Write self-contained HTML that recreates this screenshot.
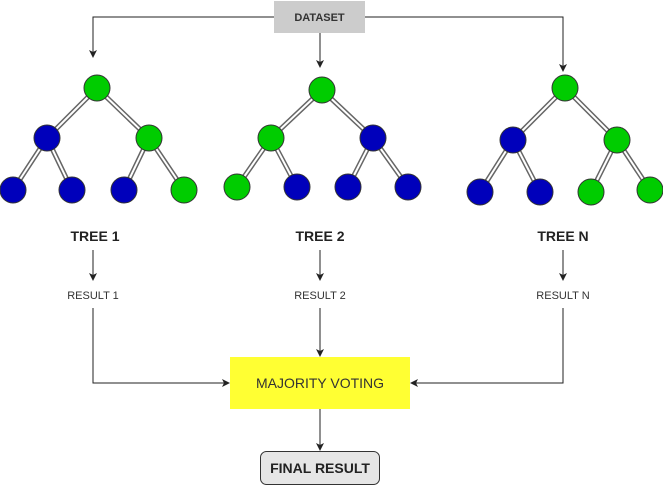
<!DOCTYPE html><html><head><style>body{margin:0;background:#fff}svg{display:block}text{font-family:"Liberation Sans",sans-serif}</style></head><body>
<svg width="663" height="486" viewBox="0 0 663 486">
<defs><marker id="a" markerWidth="8" markerHeight="8" refX="7" refY="4" orient="auto" markerUnits="userSpaceOnUse"><path d="M0,0 L8,4 L0,8 L2,4z" fill="#222"/></marker></defs>
<g stroke="#222" stroke-width="1" fill="none">
<path d="M274,17 H93 V57" marker-end="url(#a)"/>
<path d="M320,33 V67" marker-end="url(#a)"/>
<path d="M365,17 H563 V71" marker-end="url(#a)"/>
<path d="M93,250 V280" marker-end="url(#a)"/>
<path d="M320,250 V280" marker-end="url(#a)"/>
<path d="M563,250 V280" marker-end="url(#a)"/>
<path d="M93,308 V383 H229" marker-end="url(#a)"/>
<path d="M320,308 V356" marker-end="url(#a)"/>
<path d="M563,308 V383 H411" marker-end="url(#a)"/>
<path d="M320,409 V450" marker-end="url(#a)"/>
</g>
<rect x="274" y="1" width="91" height="32" fill="#cccccc"/>
<text x="319.5" y="21" font-size="11" font-weight="bold" text-anchor="middle" fill="#333">DATASET</text>
<g id="edges" fill="none">
<g stroke="#666" stroke-width="5">
<path d="M97,88 L47,138 M97,88 L149,138 M47,138 L13,190 M47,138 L72,190 M149,138 L124,190 M149,138 L184,190"/>
<path d="M322,90 L271,138 M322,90 L373,138 M271,138 L237,187 M271,138 L297,187 M373,138 L348,187 M373,138 L408,187"/>
<path d="M565,88 L513,140 M565,88 L617,140 M513,140 L480,192 M513,140 L540,192 M617,140 L591,192 M617,140 L650,190"/>
</g>
<g stroke="#fff" stroke-width="2">
<path d="M97,88 L47,138 M97,88 L149,138 M47,138 L13,190 M47,138 L72,190 M149,138 L124,190 M149,138 L184,190"/>
<path d="M322,90 L271,138 M322,90 L373,138 M271,138 L237,187 M271,138 L297,187 M373,138 L348,187 M373,138 L408,187"/>
<path d="M565,88 L513,140 M565,88 L617,140 M513,140 L480,192 M513,140 L540,192 M617,140 L591,192 M617,140 L650,190"/>
</g></g>
<g stroke="#333" stroke-width="1">
<g fill="#00cc00"><circle cx="97" cy="88" r="13"/><circle cx="149" cy="138" r="13"/><circle cx="184" cy="190" r="13"/>
<circle cx="322" cy="90" r="13"/><circle cx="271" cy="138" r="13"/><circle cx="237" cy="187" r="13"/>
<circle cx="565" cy="88" r="13"/><circle cx="617" cy="140" r="13"/><circle cx="591" cy="192" r="13"/><circle cx="650" cy="190" r="13"/></g>
<g fill="#0000bb"><circle cx="47" cy="138" r="13"/><circle cx="13" cy="190" r="13"/><circle cx="72" cy="190" r="13"/><circle cx="124" cy="190" r="13"/>
<circle cx="373" cy="138" r="13"/><circle cx="297" cy="187" r="13"/><circle cx="348" cy="187" r="13"/><circle cx="408" cy="187" r="13"/>
<circle cx="513" cy="140" r="13"/><circle cx="480" cy="192" r="13"/><circle cx="540" cy="192" r="13"/></g>
</g>
<g font-size="14" font-weight="bold" fill="#222" text-anchor="middle">
<text x="95" y="241">TREE 1</text><text x="320" y="241">TREE 2</text><text x="563" y="241">TREE N</text></g>
<g font-size="11" fill="#333" text-anchor="middle">
<text x="93" y="299">RESULT 1</text><text x="320" y="299">RESULT 2</text><text x="563" y="299">RESULT N</text></g>
<rect x="230" y="357" width="180" height="52" fill="#ffff33"/>
<text x="320" y="388" font-size="14" fill="#333" text-anchor="middle">MAJORITY VOTING</text>
<rect x="260.5" y="451.5" width="119" height="33" rx="6" fill="#e6e6e6" stroke="#333"/>
<text x="320" y="473" font-size="14" font-weight="bold" fill="#222" text-anchor="middle">FINAL RESULT</text>
</svg></body></html>
